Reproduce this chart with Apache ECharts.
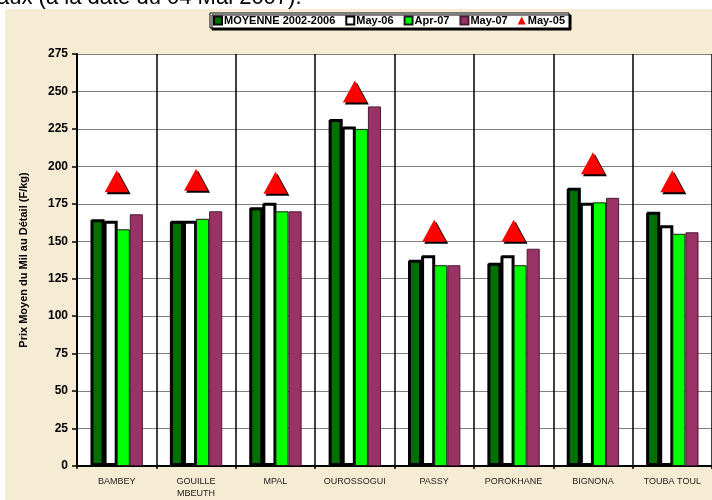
<!DOCTYPE html>
<html>
<head>
<meta charset="utf-8">
<script src="https://cdn.jsdelivr.net/npm/echarts@6/dist/echarts.min.js"></script>
<style>
  html, body { margin: 0; padding: 0; background: #fff; }
  #myChart { width: 712px; height: 500px; }
</style>
</head>
<body>
<div id="myChart"></div>
<script>
  var categories = ['BAMBEY', 'GOUILLE\nMBEUTH', 'MPAL', 'OUROSSOGUI', 'PASSY', 'POROKHANE', 'BIGNONA', 'TOUBA TOUL']
  var moyenne = [164, 163, 172, 231, 137, 135, 185, 169]
  var may06 = [163, 163, 175, 226, 140, 140, 175, 160]
  var apr07 = [158, 165, 170, 225, 134, 134, 176, 155]
  var may07 = [168, 170, 170, 240, 134, 145, 179, 156]
  var may05 = [190, 191, 189, 250, 157, 157, 202, 190]
  var yTicks = [0, 25, 50, 75, 100, 125, 150, 175, 200, 225, 250, 275]

  var myChart = echarts.init(document.getElementById('myChart'))
  var font = 'Arial, "Liberation Sans", sans-serif'

  var option = {
    backgroundColor: '#ffffff',
    animation: false,
    graphic: [
      {
        type: 'rect', z: -10, silent: true,
        shape: { x: 5, y: 9, width: 710, height: 495 },
        style: { fill: '#f6ebd3' }
      },
      {
        type: 'text', left: -3, top: -13, z: 10,
        style: { text: 'aux (à la date du 04 Mai 2007).', font: '22px ' + font, fill: '#000' }
      }
    ],
    legend: {
      left: 210,
      top: 13,
      padding: [2, 4, 2, 3],
      itemGap: 10,
      itemWidth: 8,
      itemHeight: 8,
      backgroundColor: '#fff',
      borderColor: '#000',
      borderWidth: 1,
      shadowColor: '#000',
      shadowBlur: 0,
      shadowOffsetX: 2,
      shadowOffsetY: 2,
      textStyle: { fontFamily: font, fontWeight: 'bold', fontSize: 11, color: '#000', padding: [0, 0, 0, -3] },
      data: [
        { name: 'MOYENNE 2002-2006', icon: 'rect' },
        { name: 'May-06', icon: 'rect' },
        { name: 'Apr-07', icon: 'rect' },
        { name: 'May-07', icon: 'rect' },
        { name: 'May-05', icon: 'triangle' }
      ]
    },
    grid: { left: 77, right: -2, top: 54, bottom: 31, show: true, backgroundColor: '#fff', borderWidth: 0 },
    xAxis: {
      type: 'category',
      data: categories,
      axisLine: { lineStyle: { color: '#000', width: 2 } },
      axisTick: { show: true, interval: 0, length: 3, lineStyle: { color: '#000', width: 1.5 } },
      axisLabel: { interval: 0, fontFamily: font, fontSize: 9, color: '#222', margin: 10, lineHeight: 12 },
      splitLine: { show: true, interval: 0, lineStyle: { color: '#000', width: 1.5 } }
    },
    yAxis: {
      type: 'value',
      min: yTicks[0],
      max: yTicks[yTicks.length - 1],
      interval: 25,
      name: 'Prix Moyen du Mil au Détail (F/kg)',
      nameLocation: 'middle',
      nameRotate: 90,
      nameGap: 48,
      nameTextStyle: { fontFamily: font, fontWeight: 'bold', fontSize: 11, color: '#000' },
      axisLine: { show: true, lineStyle: { color: '#000', width: 2 } },
      axisTick: { show: true, length: 5, lineStyle: { color: '#000', width: 1.5 } },
      axisLabel: { fontFamily: font, fontWeight: 'bold', fontSize: 12, color: '#000', margin: 9 },
      splitLine: { show: true, lineStyle: { color: '#808080', width: 1.2 } }
    },
    series: [
      {
        name: 'MOYENNE 2002-2006', type: 'bar', barGap: '0%', barCategoryGap: '34%',
        itemStyle: { color: '#007000', borderColor: '#000', borderWidth: 2, shadowColor: '#000', shadowOffsetX: 1, shadowOffsetY: -1 },
        data: moyenne
      },
      {
        name: 'May-06', type: 'bar',
        itemStyle: { color: '#ffffff', borderColor: '#000', borderWidth: 2, shadowColor: '#000', shadowOffsetX: 1, shadowOffsetY: -1 },
        data: may06
      },
      {
        name: 'Apr-07', type: 'bar',
        itemStyle: { color: '#00ff00', borderColor: '#1a1a1a', borderWidth: 1 },
        data: apr07
      },
      {
        name: 'May-07', type: 'bar',
        itemStyle: { color: '#993366', borderColor: '#4a1a33', borderWidth: 1 },
        data: may07
      },
      {
        name: 'May-05', type: 'scatter', symbol: 'triangle', symbolSize: [24, 22], z: 5,
        itemStyle: { color: '#ff0000', shadowColor: '#000', shadowBlur: 0, shadowOffsetX: 2, shadowOffsetY: 2, opacity: 1 },
        data: may05
      }
    ]
  }

  myChart.setOption(option)
</script>
</body>
</html>
